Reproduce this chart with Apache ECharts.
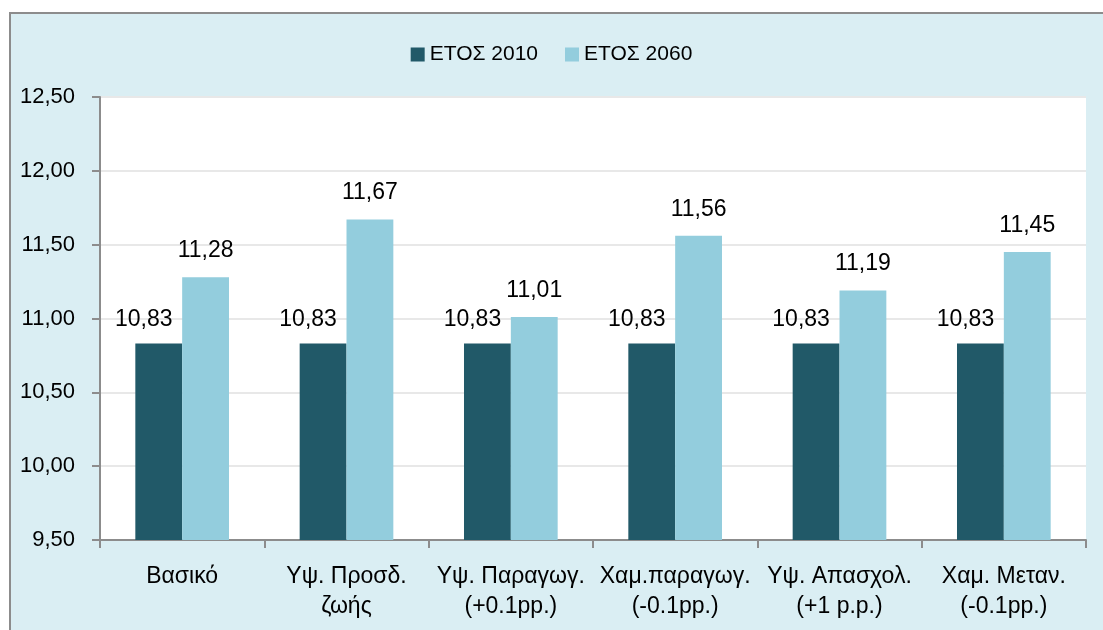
<!DOCTYPE html>
<html>
<head>
<meta charset="utf-8">
<script src="https://cdn.jsdelivr.net/npm/echarts@6/dist/echarts.min.js"></script>
<style>
html,body{margin:0;padding:0;background:#ffffff;}
#chart{width:1103px;height:630px;}
</style>
</head>
<body>
<div id="chart"></div>
<script>
const categories = ["Βασικό", "Υψ. Προσδ.\nζωής", "Υψ. Παραγωγ.\n(+0.1pp.)", "Χαμ.παραγωγ.\n(-0.1pp.)", "Υψ. Απασχολ.\n(+1 p.p.)", "Χαμ. Μεταν.\n(-0.1pp.)"];
const seriesNames = ["ΕΤΟΣ 2010", "ΕΤΟΣ 2060"];
const values2010 = [10.83, 10.83, 10.83, 10.83, 10.83, 10.83];
const values2060 = [11.28, 11.67, 11.01, 11.56, 11.19, 11.45];
const yMin = 9.5, yMax = 12.5, yStep = 0.5;

const FONT = "'Liberation Sans', Arial, sans-serif";
const fmt = v => v.toFixed(2).replace('.', ',');

const chart = echarts.init(document.getElementById('chart'), null, {renderer: 'canvas'});
chart.setOption({
  backgroundColor: '#ffffff',
  animation: false,
  textStyle: {fontFamily: FONT},
  graphic: [{
    type: 'rect', z: -10, silent: true,
    shape: {x: 10, y: 13, width: 1110, height: 640},
    style: {fill: '#DAEEF3', stroke: '#8C8C8C', lineWidth: 2}
  }],
  legend: {
    top: 39, left: 'center',
    itemWidth: 14, itemHeight: 14, itemGap: 27,
    icon: 'rect',
    textStyle: {fontFamily: FONT, fontSize: 21, color: '#000'},
    data: seriesNames
  },
  grid: {
    left: 100, right: 17, top: 97, bottom: 90,
    show: true, backgroundColor: '#ffffff', borderWidth: 0
  },
  xAxis: {
    type: 'category',
    data: categories,
    axisLine: {lineStyle: {color: '#8C8C8C', width: 2}},
    axisTick: {show: true, length: 8, alignWithLabel: false, lineStyle: {color: '#8C8C8C', width: 2}},
    axisLabel: {fontFamily: FONT, fontSize: 23, color: '#000', lineHeight: 30, margin: 22, interval: 0}
  },
  yAxis: {
    type: 'value',
    min: yMin, max: yMax, interval: yStep,
    axisLine: {show: true, lineStyle: {color: '#8C8C8C', width: 2}},
    axisTick: {show: true, length: 8, lineStyle: {color: '#8C8C8C', width: 2}},
    axisLabel: {fontFamily: FONT, fontSize: 22, color: '#000', margin: 25, formatter: v => fmt(v)},
    splitLine: {show: true, lineStyle: {color: '#E8E8E8', width: 2}}
  },
  series: [
    {
      name: seriesNames[0], type: 'bar', data: values2010,
      barGap: '0%', barCategoryGap: '43%',
      itemStyle: {color: '#215968'},
      label: {show: true, position: 'top', distance: 12, offset: [-15, 0],
        fontFamily: FONT, fontSize: 23, color: '#000', formatter: p => fmt(p.value)}
    },
    {
      name: seriesNames[1], type: 'bar', data: values2060,
      barGap: '0%', barCategoryGap: '43%',
      itemStyle: {color: '#93CDDD'},
      label: {show: true, position: 'top', distance: 15,
        fontFamily: FONT, fontSize: 23, color: '#000', formatter: p => fmt(p.value)}
    }
  ]
});
</script>
</body>
</html>
